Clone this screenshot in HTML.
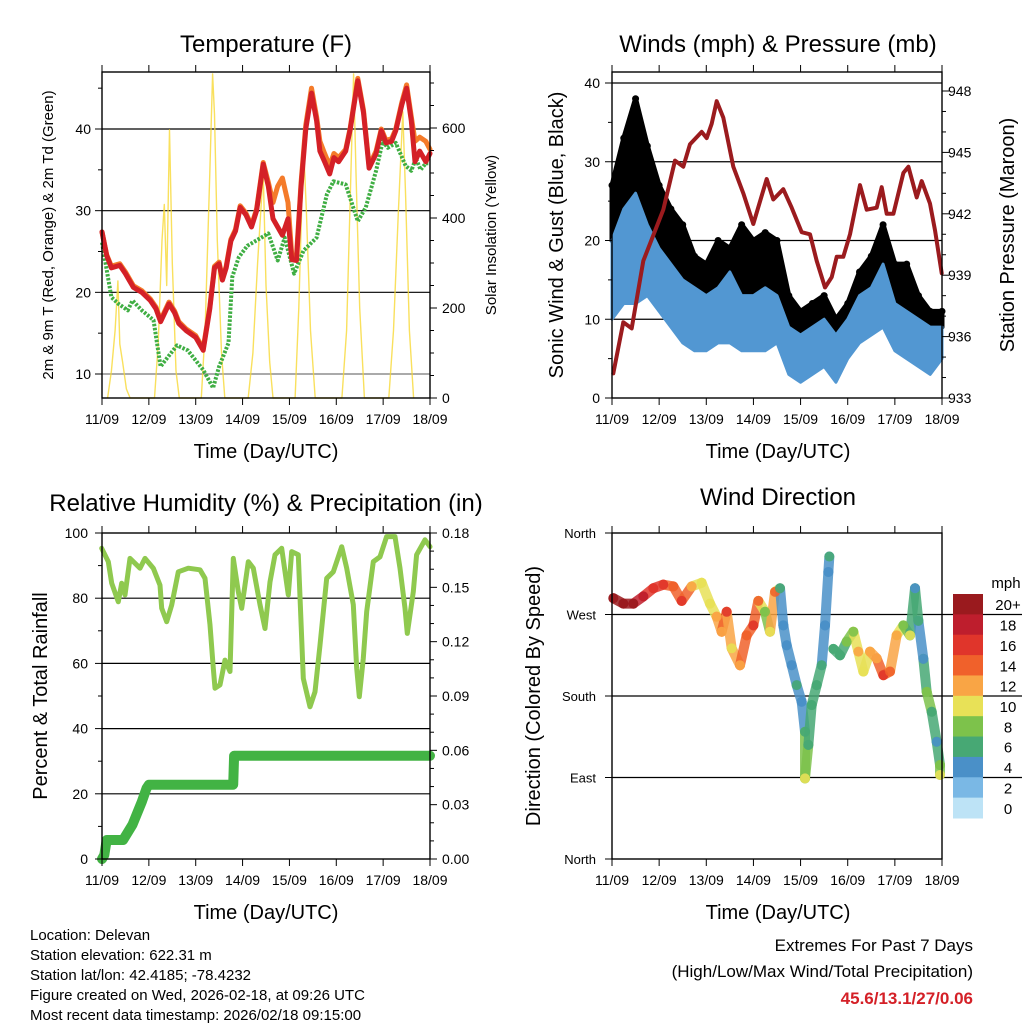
<!DOCTYPE html>
<html><head><meta charset="utf-8">
<style>
html,body{margin:0;padding:0;background:#fff;}
svg{display:block;font-family:"Liberation Sans",Arial,sans-serif;}
</style></head>
<body>
<svg id="chart" width="1024" height="1024" viewBox="0 0 1024 1024" xmlns="http://www.w3.org/2000/svg">
<rect x="0" y="0" width="1024" height="1024" fill="#fff"/>
</svg>
<script>
// ---------- Data ----------
const dayLabels = ["11/09","12/09","13/09","14/09","15/09","16/09","17/09","18/09"];
// Temperature panel
const tempTimes = [0,0.1,0.2,0.38,0.5,0.67,0.85,1.03,1.15,1.25,1.43,1.55,1.64,1.8,2.0,2.16,2.3,2.4,2.5,2.57,2.65,2.75,2.85,2.95,3.07,3.19,3.3,3.44,3.55,3.65,3.75,3.85,3.97,4.05,4.15,4.25,4.35,4.47,4.58,4.65,4.75,4.86,4.95,5.05,5.2,5.3,5.46,5.58,5.7,5.85,5.96,6.06,6.18,6.27,6.4,6.5,6.6,6.68,6.78,6.91,7.0];
const temp2m = [27.4,24.5,23,23.3,22.3,20.6,20,19,18,16.4,18.6,17.5,16.2,15.3,14.5,12.9,18,23,23.5,21.5,23,26.3,27.5,30.4,29.5,28,30,35.7,33,29,28,27,29,24,23.9,33,40,44.4,41,37.3,36,34.5,36.5,36,37.3,40,45.9,42,35.2,37,39.8,38.3,38.5,39.8,43,45,41,36,37.3,36,37];
const temp9m = [27.4,24.6,23.2,23.5,22.5,20.8,20.2,19.2,18.2,16.6,18.8,17.7,16.4,15.5,14.7,13.1,18.2,23.2,23.7,21.7,23.2,26.5,27.7,30.6,29.7,28.2,30.2,35.9,33.5,31,33,34,31,24.5,24.5,33.5,40.5,45,41.5,38.5,37,35.5,37,36.5,37.5,40.2,46.2,42.3,35.5,37.3,40,38.6,38.8,40,43.3,45.4,41.5,38.5,39,38.5,37.5];
const dewTimes = [0,0.2,0.35,0.55,0.65,0.85,1.1,1.25,1.3,1.6,1.83,2.16,2.37,2.5,2.7,2.78,2.92,3.1,3.55,3.75,3.9,4.1,4.3,4.58,4.8,4.94,5.2,5.46,5.63,5.85,5.99,6.1,6.27,6.48,6.6,6.7,6.8,6.91,7.0];
const dew2m = [26.1,19.4,18.6,17.8,19,17.8,16.6,10.9,11.3,13.5,12.9,10.5,8.3,10.9,13.8,21.9,24.3,25.7,27.2,23.9,26.7,22.3,25.1,26.7,32,33.6,33.2,28.7,30.4,34.9,38.5,37.7,38.3,35.5,34.9,36.4,35,35.8,35.8];
const solarTimes = [0.12,0.2,0.28,0.34,0.38,0.44,0.52,0.6, 1.12,1.2,1.28,1.33,1.38,1.44,1.5,1.58,1.65, 2.12,2.2,2.3,2.36,2.4,2.46,2.55,2.62, 3.12,3.22,3.32,3.44,3.5,3.58,3.65, 4.12,4.2,4.3,4.36,4.45,4.55, 5.12,5.22,5.3,5.37,5.42,5.5,5.6, 6.12,6.22,6.32,6.42,6.48,6.56,6.65];
const solarVals = [0,60,150,260,120,80,20,0, 0,120,350,430,250,596,300,60,0, 0,150,500,720,630,350,100,0, 0,100,300,503,250,80,0, 0,200,563,420,150,0, 0,150,450,720,500,200,0, 0,150,400,636,450,150,0];
// Wind panel
const windTimes = [0,0.25,0.5,0.75,1,1.25,1.5,1.75,2,2.25,2.5,2.75,3,3.25,3.5,3.75,4,4.25,4.5,4.75,5,5.25,5.5,5.75,6,6.25,6.5,6.75,7];
const gustVals = [27,33,38,32,27,24,22,18,17,20,19,22,20,21,20,13,11,12,13,10,12,16,18,22,17,17,13,11,11];
const windHi = [20,24,26,22,19,17,15,14,13,14,16,13,13,14,13,9,8,9,10,8,10,13,14,17,12,11,10,9,9];
const windLo = [10,12,12,13,11,9,7,6,6,7,7,6,6,6,7,3,2,3,4,2,5,7,8,9,6,5,4,3,5];
const presZx = [10,40,65,100,160,195,220,240,275,290,305,320,340,370,400,430,470,490,520,545,575,600,620,645,665,680,700,720,750,770,800,815,830,850,880,895,920,935,960,975,995];
const presVals = [934.2,936.7,936.4,939.7,942.2,944.6,944.3,945.4,946,945.7,946.4,947.5,946.7,944.3,943,941.5,943.7,942.7,943.2,942.3,941.1,941,939.7,938.4,938.9,939.9,939.9,941,943.4,942.2,942.3,943.3,942,942,944,944.3,942.8,943.6,942.5,941.2,939.1];
// RH panel
const rhZx = [5,25,35,55,65,75,90,120,135,160,180,185,200,215,235,265,300,315,330,340,345,360,375,390,400,415,425,445,460,480,495,510,525,545,565,575,595,610,630,645,660,680,700,710,725,740,760,770,778,790,800,820,840,860,885,900,915,922,940,950,975,990];
const rhVals = [95.3,91.2,84.6,78.9,84.6,81,92.2,89.2,92.2,89.2,84,76.9,72.8,77.9,88.1,89.2,88.7,86.1,71.8,58.5,52.4,53.4,61,57.5,92.2,82,76.9,91.2,89.2,78,70.7,85,93.3,95.3,81,94.3,93.3,55.4,46.7,51.3,65.6,86.1,88.1,91.2,95.8,89.2,78,58.5,49.8,61.6,75.9,91.2,92.7,98.9,98.9,89.2,76.9,69.2,82,93.3,97.9,95.8];
const precipTimes = [0,0.05,0.1,0.45,0.65,0.85,0.95,1.0,2.8,2.82,7.0];
const precipVals = [0,0.0022,0.0105,0.0105,0.019,0.0316,0.039,0.041,0.041,0.057,0.057];
// Wind direction panel
const dirZx = [10,40,70,100,130,160,190,215,245,275,300,320,335,350,365,390,410,430,445,465,480,495,510,520,530,545,560,575,585,585,595,605,620,635,645,655,658,670,690,710,730,745,760,780,800,820,840,860,880,900,915,925,940,950,965,980,990,990];
const dirDeg = [288,282,282,290,299,303,301,285,301,305,282,267.6,251,273,232.7,214,247,258,285,273,251,295,299,258,236,214,192,173.7,140.5,89,126,170,192,214,258,317,334,232,225,240,251,229,207,229,221.5,203,207,247,258,247,299,263,221,184.6,162.6,129.5,103.8,92.8];
const dirSpd = [21,20,20,18,17,16,15,16,12,10,10,12,12,16,11,13,15,16,14,8,10,14,7,4,4,5,6,4,7,10,7,7,7,7,4,4,6,6,6,9,8,12,10,12,13,16,14,12,8,10,5,7,4,9,7,5,8,10];
const cbLabels = ["20+","18","16","14","12","10","8","6","4","2","0"];
const cbColors = ["#9a1a1e","#be1e2d","#e0352b","#f0612b","#f9a545","#e8e157","#7dc24b","#47a874","#4a90c8","#7ab8e5","#bde3f6"];

// ---------- Helpers ----------
const svg = document.getElementById('chart');
const NS = 'http://www.w3.org/2000/svg';
function mk(tag, attrs, parent){
  const e = document.createElementNS(NS, tag);
  for (const k in attrs) e.setAttribute(k, attrs[k]);
  (parent||svg).appendChild(e);
  return e;
}
function lin(d0,d1,r0,r1){ return v => r0 + (v-d0)*(r1-r0)/(d1-d0); }
function txt(x,y,s,size,anchor,extra){
  const t = mk('text', Object.assign({x:x,y:y,'font-size':size,'text-anchor':anchor||'middle',fill:'#000'}, extra||{}));
  t.textContent = s;
  return t;
}
function speedColor(s){
  let i = Math.floor(s/2); if (i>10) i=10; if (i<0) i=0;
  return cbColors[10-i];
}
const zxDay = zx => (zx/3 - 2)/47.14;

function frame(px0,px1,py0,py1,name){
  const g = mk('g',{});
  
  
  return g;
}
function xAxis(g,xs,py0,py1){
  for (let d=0; d<=7; d++){
    const x = xs(d);
    mk('line',{x1:x,y1:py1,x2:x,y2:py1+7,stroke:'#000','stroke-width':1},g);
    mk('line',{x1:x,y1:py0,x2:x,y2:py0-7,stroke:'#000','stroke-width':1},g);
    const t = txt(x,py1+26,dayLabels[d],14,'middle');
    
    
  }
}
function border(g,px0,px1,py0,py1){
  const r = mk('rect',{x:px0,y:py0,width:px1-px0,height:py1-py0,fill:'none',stroke:'#000','stroke-width':1.4},g);
  
  
}
function grid(g,px0,px1,y,col){
  const l = mk('line',{x1:px0,y1:y,x2:px1,y2:y,stroke:col||'#000','stroke-width':1.2},g);
  
  
}
function pathFrom(xsArr, ysArr){
  return xsArr.map((x,i)=>(i?'L':'M')+x.toFixed(1)+','+ysArr[i].toFixed(1)).join(' ');
}

// ================= Panel 1: Temperature =================
(function(){
  const X0=102,X1=430,Y0=72,Y1=398;
  const xs = lin(0,7,X0,X1), yT = lin(10,40,374,129), yS = lin(0,600,398,128);
  const g = frame(X0,X1,Y0,Y1,'temperature-panel');
  [20,30,40].forEach(v=>grid(g,X0,X1,yT(v)));
  grid(g,X0,X1,yT(10),'#777');
  const sp = mk('path',{d:pathFrom(solarTimes.map(xs),solarVals.map(yS)),fill:'none',stroke:'#f7d835','stroke-width':1.4,'stroke-opacity':0.8,'stroke-linejoin':'round'},g);
  
  
  const dp = mk('path',{d:pathFrom(dewTimes.map(xs),dew2m.map(yT)),fill:'none',stroke:'#3fae43','stroke-width':4,'stroke-dasharray':'2.5 1.5','stroke-linejoin':'round'},g);
  
  
  const op = mk('path',{d:pathFrom(tempTimes.map(xs),temp9m.map(yT)),fill:'none',stroke:'#f47b2a','stroke-width':5,'stroke-linejoin':'round','stroke-linecap':'round'},g);
  
  
  const rp = mk('path',{d:pathFrom(tempTimes.map(xs),temp2m.map(yT)),fill:'none',stroke:'#d42027','stroke-width':5,'stroke-linejoin':'round','stroke-linecap':'round'},g);
  
  
  border(g,X0,X1,Y0,Y1);
  xAxis(g,xs,Y0,Y1);
  for (let v=10; v<=45; v+=5){
    const y=yT(v), major = v%10===0;
    mk('line',{x1:X0,y1:y,x2:X0-(major?7:4),y2:y,stroke:'#000'},g);
    if (major){ const t=txt(X0-11,y+5,String(v),14,'end');   }
  }
  for (let v=0; v<=700; v+=50){
    const y=yS(v); if (y<Y0) continue; const major = v%200===0;
    mk('line',{x1:X1,y1:y,x2:X1+(major?7:4),y2:y,stroke:'#000'},g);
    if (major){ const t=txt(X1+12,y+5,String(v),14,'start');   }
  }
  const ti = txt(266,52,'Temperature (F)',24,'middle');
  
  
  const xt = txt(266,458,'Time (Day/UTC)',20,'middle');
  
  
  const yl = txt(0,0,'2m & 9m T (Red, Orange) & 2m Td (Green)',15,'middle',{transform:'translate(53,235) rotate(-90)'});
  
  
  const yr = txt(0,0,'Solar Insolation (Yellow)',15,'middle',{transform:'translate(496,235) rotate(-90)'});
  
  
})();

// ================= Panel 2: Winds & Pressure =================
(function(){
  const X0=612,X1=942,Y0=72,Y1=398;
  const xs = lin(0,7,X0,X1), yW = lin(0,40,398,83), yP = lin(933,948,398,91);
  const g = frame(X0,X1,Y0,Y1,'winds-pressure-panel');
  [10,20,30,40].forEach(v=>grid(g,X0,X1,yW(v)));
  const wx = windTimes.map(xs);
  const gp = wx.map((x,i)=>(i?'L':'M')+x+','+yW(gustVals[i])).join(' ') + ' ' + wx.slice().reverse().map((x,j)=>{const i=wx.length-1-j; return 'L'+x+','+yW(windHi[i]);}).join(' ')+' Z';
  const gc = mk('path',{d:gp,fill:'#000',stroke:'#000','stroke-width':5,'stroke-linejoin':'round'},g);
  
  
  gustVals.forEach((v,i)=>{
    const c = mk('circle',{cx:xs(windTimes[i]),cy:yW(v),r:3.5,fill:'#000'},g);
    
    
  });
  const bp = wx.map((x,i)=>(i?'L':'M')+x+','+yW(windHi[i])).join(' ') + ' ' + wx.slice().reverse().map((x,j)=>{const i=wx.length-1-j; return 'L'+x+','+yW(windLo[i]);}).join(' ')+' Z';
  const bc = mk('path',{d:bp,fill:'#5297d2',stroke:'#5297d2','stroke-width':3,'stroke-linejoin':'round'},g);
  
  
  const pp = mk('path',{d:pathFrom(presZx.map(z=>xs(zxDay(z))),presVals.map(yP)),fill:'none',stroke:'#9b1b1e','stroke-width':4,'stroke-linejoin':'round','stroke-linecap':'round'},g);
  
  
  border(g,X0,X1,Y0,Y1);
  xAxis(g,xs,Y0,Y1);
  for (let v=0; v<=40; v+=5){
    const y=yW(v), major=v%10===0;
    mk('line',{x1:X0,y1:y,x2:X0-(major?7:4),y2:y,stroke:'#000'},g);
    if (major){ const t=txt(X0-12,y+5,String(v),14,'end');   }
  }
  for (let v=933; v<=949; v+=1){
    const y=yP(v); if (y<Y0) continue; const major=(v-933)%3===0;
    mk('line',{x1:X1,y1:y,x2:X1+(major?7:4),y2:y,stroke:'#000'},g);
    if (major){ const t=txt(X1+6,y+5,String(v),14,'start');   }
  }
  const ti = txt(778,52,'Winds (mph) & Pressure (mb)',24,'middle');
  
  
  const xt = txt(778,458,'Time (Day/UTC)',20,'middle');
  
  
  const yl = txt(0,0,'Sonic Wind & Gust (Blue, Black)',20,'middle',{transform:'translate(563,235) rotate(-90)'});
  
  
  const yr = txt(0,0,'Station Pressure (Maroon)',20,'middle',{transform:'translate(1014,235) rotate(-90)'});
  
  
})();

// ================= Panel 3: RH & Precip =================
(function(){
  const X0=102,X1=430,Y0=533,Y1=859;
  const xs = lin(0,7,X0,X1), yR = lin(0,100,859,533), yPr = lin(0,0.18,859,533);
  const g = frame(X0,X1,Y0,Y1,'humidity-precip-panel');
  [20,40,60,80].forEach(v=>grid(g,X0,X1,yR(v)));
  const rp = mk('path',{d:pathFrom(rhZx.map(z=>xs((z/3-2)/46.86)),rhVals.map(yR)),fill:'none',stroke:'#8fc94f','stroke-width':5,'stroke-linejoin':'round','stroke-linecap':'round'},g);
  
  
  const pp = mk('path',{d:pathFrom(precipTimes.map(xs),precipVals.map(yPr)),fill:'none',stroke:'#42b344','stroke-width':10,'stroke-linejoin':'round','stroke-linecap':'round'},g);
  
  
  border(g,X0,X1,Y0,Y1);
  xAxis(g,xs,Y0,Y1);
  for (let v=0; v<=100; v+=10){
    const y=yR(v), major=v%20===0;
    mk('line',{x1:X0,y1:y,x2:X0-(major?7:4),y2:y,stroke:'#000'},g);
    if (major){ const t=txt(X0-14,y+5,String(v),14,'end');   }
  }
  for (let k=0; k<=18; k++){
    const v=k*0.01, y=yPr(v), major=k%3===0;
    mk('line',{x1:X1,y1:y,x2:X1+(major?7:4),y2:y,stroke:'#000'},g);
    if (major){ const t=txt(X1+12,y+5,v.toFixed(2),14,'start');   }
  }
  const ti = txt(266,511,'Relative Humidity (%) & Precipitation (in)',24,'middle');
  
  
  const xt = txt(266,919,'Time (Day/UTC)',20,'middle');
  
  
  const yl = txt(0,0,'Percent & Total Rainfall',20,'middle',{transform:'translate(47,696) rotate(-90)'});
  
  
})();

// ================= Panel 4: Wind Direction =================
(function(){
  const X0=612,X1=942,Y0=533,Y1=859;
  const xs = lin(0,7,X0,X1), yD = lin(0,360,859,533);
  const g = frame(X0,X1,Y0,Y1,'wind-direction-panel');
  [90,180,270].forEach(v=>grid(g,X0,X1+80,yD(v)));
  for (let i=1;i<dirZx.length;i++){
    if (Math.abs(dirDeg[i]-dirDeg[i-1])>60) continue;
    const l = mk('line',{x1:xs(zxDay(dirZx[i-1])),y1:yD(dirDeg[i-1]),x2:xs(zxDay(dirZx[i])),y2:yD(dirDeg[i]),stroke:speedColor((dirSpd[i]+dirSpd[i-1])/2),'stroke-width':10,'stroke-linecap':'round','stroke-opacity':0.85},g);
    
    
  }
  dirZx.forEach((z,i)=>{
    const c = mk('circle',{cx:xs(zxDay(z)),cy:yD(dirDeg[i]),r:5,fill:speedColor(dirSpd[i]),'fill-opacity':0.9},g);
    
    
  });
  border(g,X0,X1,Y0,Y1);
  xAxis(g,xs,Y0,Y1);
  const dn = ['North','East','South','West','North'];
  dn.forEach((s,i)=>{
    const y=yD(i*90);
    mk('line',{x1:X0,y1:y,x2:X0-7,y2:y,stroke:'#000'},g);
    const t=txt(X0-16,y+5,s,13,'end');
    
    
  });
  const bh = (818-594)/11;
  cbColors.forEach((c,i)=>{
    const r = mk('rect',{x:953,y:594+i*bh,width:30,height:bh+0.5,fill:c},g);
    
    
    const t = txt(1008,594+i*bh+bh/2+6,cbLabels[i],15,'middle');
    
    
  });
  const mu = txt(1006,588,'mph',15,'middle');
  
  
  const ti = txt(778,505,'Wind Direction',24,'middle');
  
  
  const xt = txt(778,919,'Time (Day/UTC)',20,'middle');
  
  
  const yl = txt(0,0,'Direction (Colored By Speed)',20,'middle',{transform:'translate(540,696) rotate(-90)'});
  
  
})();

// ================= Footer text =================
const infoLines = ["Location: Delevan","Station elevation: 622.31 m","Station lat/lon: 42.4185; -78.4232","Figure created on Wed, 2026-02-18, at 09:26 UTC","Most recent data timestamp: 2026/02/18 09:15:00"];
infoLines.forEach((s,i)=>{
  const t = txt(30,940+i*20,s,15,'start');
  
  
});
const e1 = txt(973,951,'Extremes For Past 7 Days',17,'end');


const e2 = txt(973,977,'(High/Low/Max Wind/Total Precipitation)',17,'end');


const e3 = txt(973,1004,'45.6/13.1/27/0.06',17,'end',{fill:'#d42027','font-weight':'bold'});


</script>
</body></html>
